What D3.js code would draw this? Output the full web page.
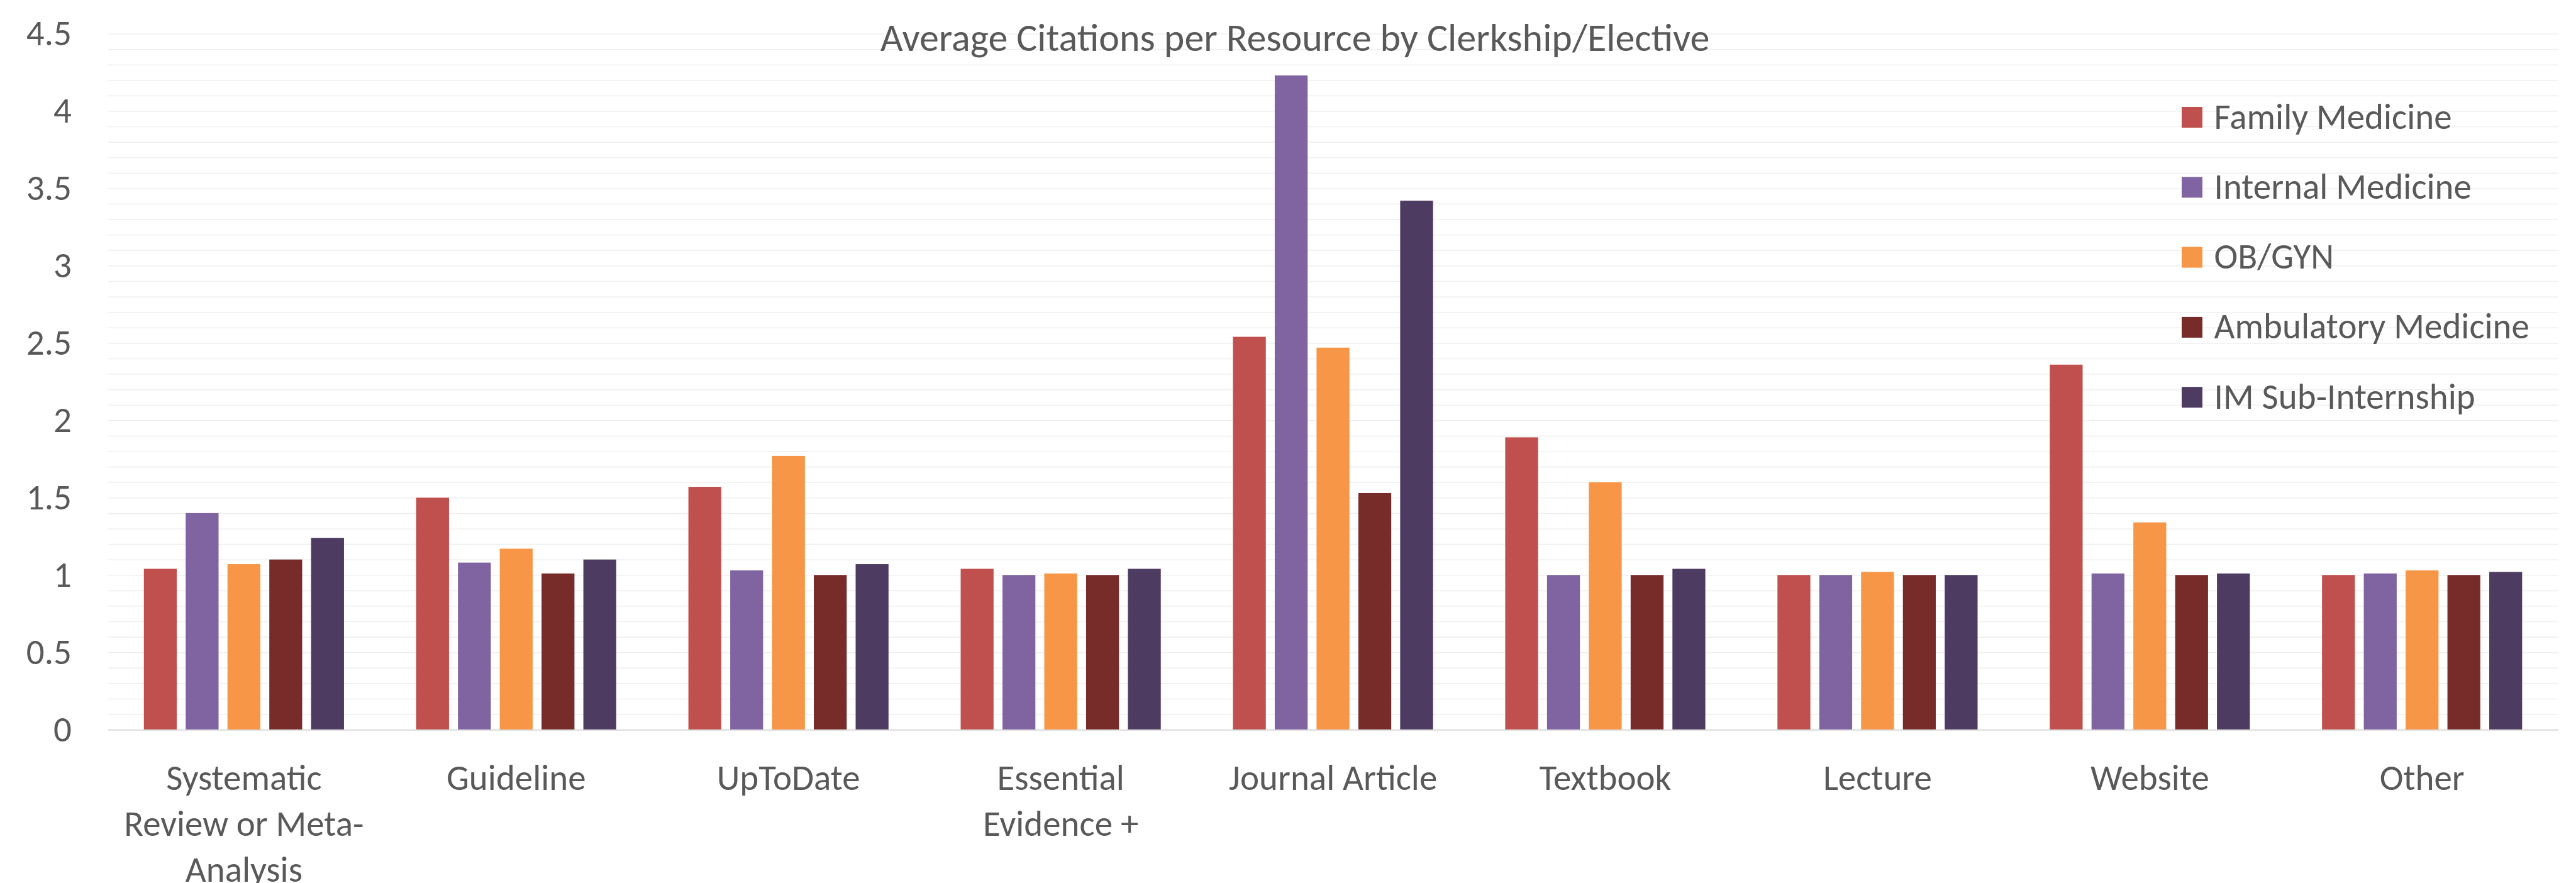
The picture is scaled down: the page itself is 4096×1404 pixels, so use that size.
<!DOCTYPE html>
<html>
<head>
<meta charset="utf-8">
<script src="https://cdn.jsdelivr.net/npm/d3@7"></script>
<style>
  html, body { margin: 0; padding: 0; background: #ffffff; }
  svg { display: block; }
  text { font-family: Carlito, Calibri, Lato, "Open Sans", sans-serif; fill: #595959; }
</style>
</head>
<body>
<svg id="chart" width="4096" height="1404"></svg>
<script>
// ---------------- DATA ----------------
const categories = [
  "Systematic Review or Meta-Analysis", "Guideline", "UpToDate", "Essential Evidence +",
  "Journal Article", "Textbook", "Lecture", "Website", "Other"
];
const categoryLabelLines = [
  ["Systematic", "Review or Meta-", "Analysis"],
  ["Guideline"],
  ["UpToDate"],
  ["Essential", "Evidence +"],
  ["Journal Article"],
  ["Textbook"],
  ["Lecture"],
  ["Website"],
  ["Other"]
];
const seriesNames = ["Family Medicine", "Internal Medicine", "OB/GYN", "Ambulatory Medicine", "IM Sub-Internship"];
const familyMedicine     = [1.04, 1.50, 1.57, 1.04, 2.54, 1.89, 1.00, 2.36, 1.00];
const internalMedicine   = [1.40, 1.08, 1.03, 1.00, 4.23, 1.00, 1.00, 1.01, 1.01];
const obGyn              = [1.07, 1.17, 1.77, 1.01, 2.47, 1.60, 1.02, 1.34, 1.03];
const ambulatoryMedicine = [1.10, 1.01, 1.00, 1.00, 1.53, 1.00, 1.00, 1.00, 1.00];
const imSubInternship    = [1.24, 1.10, 1.07, 1.04, 3.42, 1.04, 1.00, 1.01, 1.02];
const yTickValues = [0, 0.5, 1, 1.5, 2, 2.5, 3, 3.5, 4, 4.5];
const yTickLabels = ["0", "0.5", "1", "1.5", "2", "2.5", "3", "3.5", "4", "4.5"];
const titleText = "Average Citations per Resource by Clerkship/Elective";

// ---------------- STYLE / LAYOUT ----------------
const seriesColors = ["#C0504D", "#8064A2", "#F79646", "#772C2A", "#4D3B62"];
const seriesValues = [familyMedicine, internalMedicine, obGyn, ambulatoryMedicine, imSubInternship];

const plotLeft = 171.4, plotRight = 4067.7;
const plotBottom = 1160.2, plotTop = 53.5;
const fontSize = 57;

const svg = d3.select("#chart");

const x0 = d3.scaleBand().domain(categories).range([plotLeft, plotRight]).padding(0);
const groupPad = x0.bandwidth() * 0.1325;
const x1 = d3.scaleBand().domain(seriesNames)
  .range([groupPad, x0.bandwidth() - groupPad])
  .paddingInner(0.2135).paddingOuter(0);
const y = d3.scaleLinear().domain([0, 4.5]).range([plotBottom, plotTop]);

// minor gridlines every 0.1
const gridValues = d3.range(1, 46).map(i => i / 10);
const grid = svg.append("g")
  .attr("transform", `translate(${plotLeft},0)`)
  .call(d3.axisLeft(y).tickValues(gridValues).tickSize(-(plotRight - plotLeft)).tickFormat(""));
grid.select(".domain").remove();
grid.selectAll(".tick line").attr("stroke", "#F0F0F0").attr("stroke-width", 1.6);

// y axis labels
const yAxis = svg.append("g")
  .attr("transform", `translate(${plotLeft},0)`)
  .call(d3.axisLeft(y).tickValues(yTickValues).tickSize(0).tickPadding(plotLeft - 114)
    .tickFormat((d, i) => yTickLabels[i]));
yAxis.select(".domain").remove();
yAxis.selectAll(".tick text")
  .attr("font-size", fontSize)
  .style("font-family", "Carlito, Calibri, Lato, 'Open Sans', sans-serif")
  .attr("fill", "#595959");

// title
svg.append("text")
  .attr("x", 2059).attr("y", 81)
  .attr("text-anchor", "middle")
  .attr("font-size", 62)
  .text(titleText);

// bars
const groups = svg.append("g").selectAll("g")
  .data(categories)
  .join("g")
  .attr("transform", d => `translate(${x0(d)},0)`);

groups.selectAll("rect")
  .data((c, ci) => seriesNames.map((s, si) => ({ s, si, v: seriesValues[si][ci] })))
  .join("rect")
  .attr("x", d => x1(d.s))
  .attr("width", x1.bandwidth())
  .attr("y", d => y(d.v))
  .attr("height", d => y(0) - y(d.v))
  .attr("fill", d => seriesColors[d.si]);

// baseline axis
const xAxis = svg.append("g")
  .attr("transform", `translate(0,${plotBottom})`)
  .call(d3.axisBottom(x0).tickSize(0).tickFormat(""));
xAxis.select(".domain").attr("stroke", "#D9D9D9").attr("stroke-width", 2);

// category labels
const lineHeight = 72.8;
categories.forEach((c, i) => {
  const t = svg.append("text")
    .attr("x", x0(c) + x0.bandwidth() / 2)
    .attr("y", 1256)
    .attr("text-anchor", "middle")
    .attr("font-size", fontSize);
  categoryLabelLines[i].forEach((line, li) => {
    t.append("tspan")
      .attr("x", x0(c) + x0.bandwidth() / 2)
      .attr("dy", li === 0 ? 0 : lineHeight)
      .text(line);
  });
});

// legend
const legendX = 3469, legendY0 = 186.5, legendStep = 111.3, sw = 33;
const legend = svg.append("g").selectAll("g")
  .data(seriesNames)
  .join("g")
  .attr("transform", (d, i) => `translate(${legendX},${legendY0 + i * legendStep})`);
legend.append("rect")
  .attr("x", 0).attr("y", -sw / 2)
  .attr("width", sw).attr("height", sw)
  .attr("fill", (d, i) => seriesColors[i]);
legend.append("text")
  .attr("x", 3520.6 - legendX).attr("y", 18)
  .attr("font-size", fontSize)
  .text(d => d);
</script>
</body>
</html>
